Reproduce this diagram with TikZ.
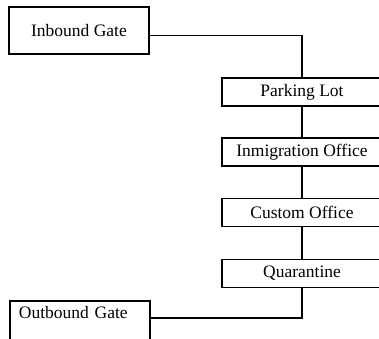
\documentclass[tikz,border=0pt]{standalone}
\usepackage{fontspec}
\setmainfont{Liberation Serif}
\usetikzlibrary{calc}

\begin{document}
\begin{tikzpicture}[x=1pt,y=-1pt,line width=1.8pt,
  every node/.style={font=\fontsize{17.5}{20}\selectfont},
  gate/.style={draw, minimum width=140pt, minimum height=47pt, inner sep=0pt},
  stop/.style={draw, minimum width=160pt, minimum height=28pt, inner sep=0pt}]
  \useasboundingbox (0,0) rectangle (379,338);

  %% Gates at the two ends
  \node[gate] (inbound) at (79,30.5) {Inbound Gate};
  \node[draw, anchor=north west, text width=122pt, align=left,
        inner xsep=9pt, inner ysep=5pt, text depth=35pt] (outbound) at (9,300) {Outbound Gate};

  %% Stops on the way through
  \foreach \name/\label/\y in {park/Parking Lot/92, immig/Inmigration Office/152,
                               custom/Custom Office/212.5, quar/Quarantine/273.5}
  {
    \node[stop] (\name) at (302,\y) {\label};
  }

  %% Connecting the stops
  \draw ([yshift=-5pt]inbound.east) -| (park.north);
  \foreach \a/\b in {park/immig, immig/custom, custom/quar}
  {
    \draw (\a.south) -- (\b.north);
  }
  \draw ([yshift=-18pt]outbound.north east) -| (quar.south);
\end{tikzpicture}
\end{document}
